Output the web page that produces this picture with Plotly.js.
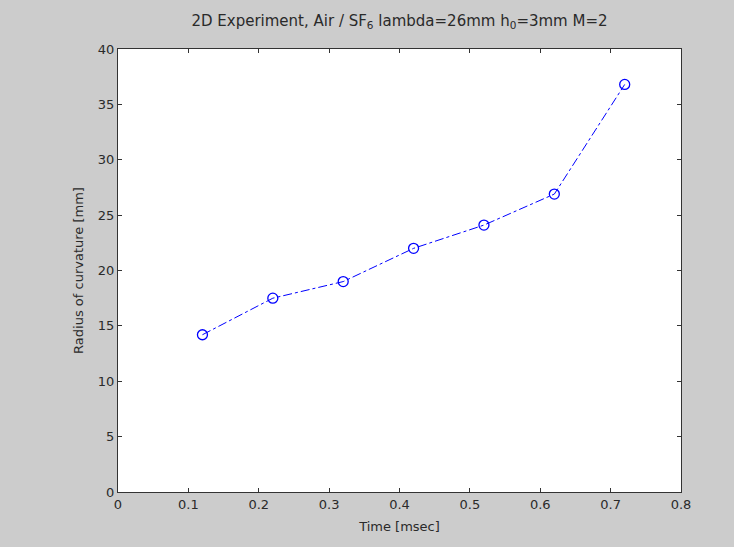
<!DOCTYPE html>
<html><head><meta charset="utf-8">
<script src="https://cdn.plot.ly/plotly-3.0.1.min.js"></script>
<style>html,body{margin:0;padding:0;background:#cccccc;}</style>
</head><body>
<div id="plot" style="width:734px;height:547px;"></div>
<script>
const timeMsec = [0.12, 0.22, 0.32, 0.42, 0.52, 0.62, 0.72];
const radiusMm = [14.2, 17.5, 19.0, 22.0, 24.1, 26.9, 36.8];
const xTicks = [0, 0.1, 0.2, 0.3, 0.4, 0.5, 0.6, 0.7, 0.8];
const xTickText = ['0', '0.1', '0.2', '0.3', '0.4', '0.5', '0.6', '0.7', '0.8'];
const yTicks = [0, 5, 10, 15, 20, 25, 30, 35, 40];

const font = {family: 'DejaVu Sans, Arial, sans-serif', size: 13, color: '#2a2a2a'};
const axisCommon = {
  showline: true, linecolor: '#333', linewidth: 1, mirror: 'ticks',
  ticks: 'inside', ticklen: 4, tickcolor: '#333', tickwidth: 1,
  showgrid: false, zeroline: false, tickfont: font
};
Plotly.newPlot('plot', [{
  x: timeMsec, y: radiusMm, type: 'scatter', mode: 'lines+markers',
  line: {color: '#0000ff', width: 1, dash: 'dashdot'},
  marker: {symbol: 'circle-open', size: 10, color: '#0000ff', line: {width: 1.3, color: '#0000ff'}}
}], {
  width: 734, height: 547,
  paper_bgcolor: '#cccccc', plot_bgcolor: '#ffffff',
  margin: {l: 118, r: 53, t: 49, b: 55},
  showlegend: false,
  font: font,
  title: {text: '2D Experiment, Air / SF<sub>6</sub> lambda=26mm h<sub>0</sub>=3mm M=2',
          font: Object.assign({}, font, {size: 15}), xref: 'paper', x: 0.5, xanchor: 'center',
          yref: 'container', y: 0.9616, yanchor: 'middle'},
  xaxis: Object.assign({}, axisCommon, {range: [0, 0.8], tickvals: xTicks, ticktext: xTickText,
          title: {text: 'Time [msec]', font: font, standoff: 11}}),
  yaxis: Object.assign({}, axisCommon, {range: [0, 40], tickvals: yTicks,
          title: {text: 'Radius of curvature [mm]', font: font, standoff: 11}})
}, {displayModeBar: false, staticPlot: true});
</script>
</body></html>
